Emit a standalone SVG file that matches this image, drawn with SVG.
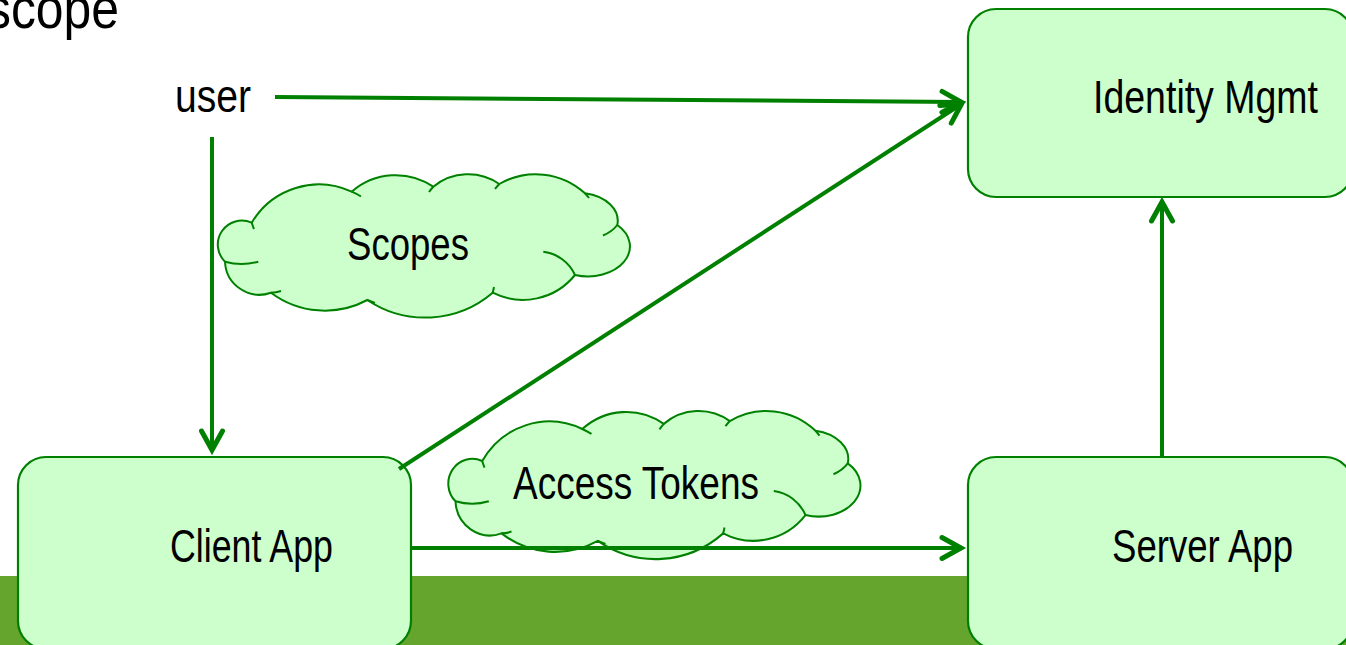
<svg xmlns="http://www.w3.org/2000/svg" xmlns:xlink="http://www.w3.org/1999/xlink" width="1346" height="645" viewBox="0 0 1346 645">
  <style>
    .box { fill: #CCFFCC; stroke: #008000; stroke-width: 2.2; }
    .cloud { fill: #CCFFCC; stroke: #008000; stroke-width: 2; }
    .tail { fill: none; stroke: #008000; stroke-width: 2; }
    .lbl { font-family: "Liberation Sans", Arial, sans-serif; font-size: 46px; fill: #000; }
    .conn { stroke: #008000; stroke-width: 4; fill: none; }
  </style>
  <defs>
    <marker id="ah" markerUnits="userSpaceOnUse" markerWidth="40" markerHeight="40" viewBox="-30 -20 40 40" refX="0" refY="0" orient="auto" overflow="visible">
      <path d="M-19,-10.5 L0,0 L-19,10.5" fill="none" stroke="#008000" stroke-width="5" stroke-linecap="round" stroke-linejoin="miter"/>
    </marker>
    <g id="cloudShape">
      <path class="cloud" d="M251.7,222.7 A78,78 0 0 1 351.7,191.7 A67,67 0 0 1 433.3,186.7 A55,55 0 0 1 499.3,184 A73,73 0 0 1 585,193.3 A40,28 0 0 1 617.3,225 A42,30 0 0 1 575,275 A67,67 0 0 1 492.7,292.7 A104,104 0 0 1 367.3,300 A90,90 0 0 1 271,292.7 A34.5,34.5 0 0 1 225,261.7 A24,24 0 0 1 251.7,222.7 Z"/>
      <path class="tail" d="M351.7,191.7 A78,78 0 0 1 361,196.5 M617.3,225 A40,28 0 0 1 603,235.5 M543.3,251.7 A40,40 0 0 1 575,275 M258.3,261.7 A60,60 0 0 1 225,261.7 M251.7,222.7 A78,78 0 0 0 254,229 M271,292.7 A34.5,34.5 0 0 0 281,291 M433.3,186.7 A55,55 0 0 0 429,192 M499.3,184 A73,73 0 0 0 495,189 M585,193.3 A73,73 0 0 1 589,198 M492.7,292.7 A104,104 0 0 0 494,287 M367.3,300 A90,90 0 0 0 375,303"/>
    </g>
  </defs>

  <rect id="band" x="0" y="576" width="1346" height="69" fill="#65A52D"/>

  <text id="title" class="lbl" x="-14" y="28" textLength="133" lengthAdjust="spacingAndGlyphs" style="font-size:58px">scope</text>

  <g id="user">
    <text class="lbl" x="175" y="112" textLength="76" lengthAdjust="spacingAndGlyphs">user</text>
  </g>

  <g id="identity-mgmt">
    <rect class="box" x="968" y="9" width="385" height="188" rx="28" ry="28"/>
    <text class="lbl" x="1093" y="113" textLength="225" lengthAdjust="spacingAndGlyphs">Identity Mgmt</text>
  </g>

  <g id="client-app">
    <rect class="box" x="18" y="457" width="393" height="192" rx="28" ry="28"/>
    <text class="lbl" x="170" y="562" textLength="163" lengthAdjust="spacingAndGlyphs">Client App</text>
  </g>

  <g id="server-app">
    <rect class="box" x="968" y="457" width="385" height="192" rx="28" ry="28"/>
    <text class="lbl" x="1112" y="562" textLength="181" lengthAdjust="spacingAndGlyphs">Server App</text>
  </g>

  <g id="scopes">
    <use xlink:href="#cloudShape" href="#cloudShape"/>
    <text class="lbl" x="347" y="260" textLength="122" lengthAdjust="spacingAndGlyphs">Scopes</text>
  </g>

  <g id="access-tokens">
    <use xlink:href="#cloudShape" href="#cloudShape" transform="translate(230.5,231) scale(1,1.033)"/>
    <text class="lbl" x="513" y="499" textLength="246" lengthAdjust="spacingAndGlyphs">Access Tokens</text>
  </g>

  <g id="connectors">
    <line class="conn" x1="275" y1="97" x2="961" y2="102" marker-end="url(#ah)"/>
    <line class="conn" x1="212" y1="137" x2="212" y2="450" marker-end="url(#ah)"/>
    <line class="conn" x1="399" y1="469" x2="961.5" y2="104" marker-end="url(#ah)"/>
    <line class="conn" x1="411" y1="548" x2="961" y2="548" marker-end="url(#ah)"/>
    <line class="conn" x1="1162" y1="456" x2="1162" y2="202" marker-end="url(#ah)"/>
  </g>
</svg>
